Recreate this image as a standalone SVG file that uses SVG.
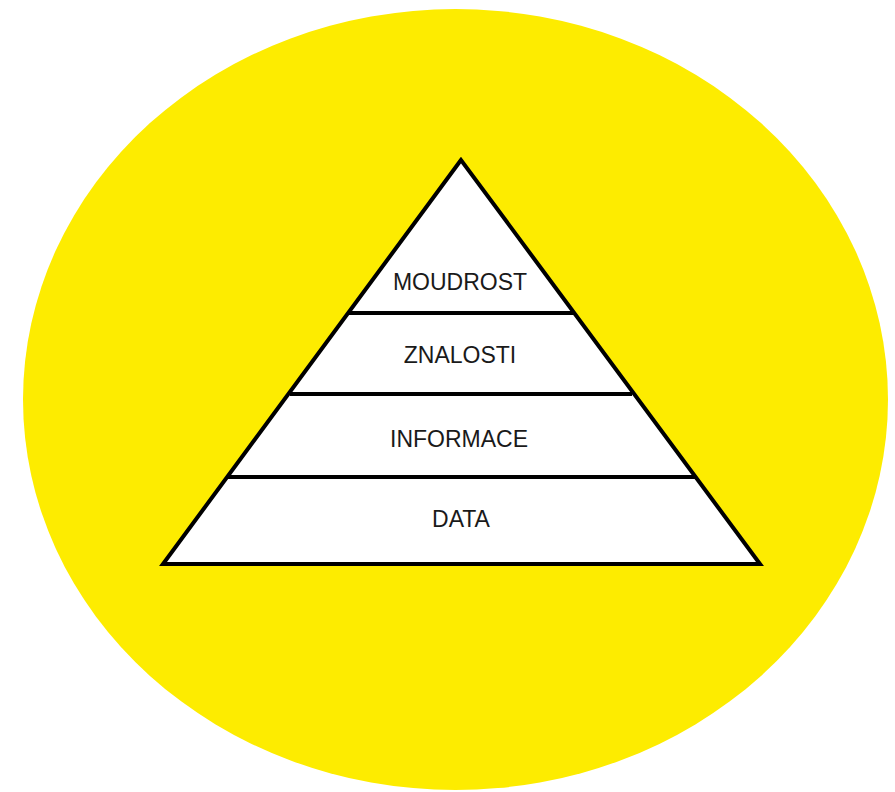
<svg xmlns="http://www.w3.org/2000/svg" width="895" height="792" viewBox="0 0 895 792">
<style>
.edge{stroke:#000;stroke-width:4;fill:none;stroke-linejoin:miter}
.lbl{font-family:"Liberation Sans",Arial,sans-serif;font-size:23px;fill:#1a1a1a;text-anchor:middle}
</style>
<rect width="895" height="792" fill="#fff"/>
<ellipse id="circle" cx="455.5" cy="399.5" rx="432.5" ry="390.5" fill="#fdec00"/>
<g id="pyramid">
<polygon points="461,160 163,564 760,564" fill="#fff" stroke="#000" stroke-width="4" stroke-linejoin="miter"/>
</g>
<g id="connectors">
<line class="edge" x1="348" y1="313" x2="574" y2="313"/>
<line class="edge" x1="290" y1="394" x2="632" y2="394"/>
<line class="edge" x1="228" y1="477" x2="695" y2="477"/>
</g>
<g id="moudrost"><text class="lbl" x="460" y="290">MOUDROST</text></g>
<g id="znalosti"><text class="lbl" x="460" y="363">ZNALOSTI</text></g>
<g id="informace"><text class="lbl" x="459" y="447">INFORMACE</text></g>
<g id="data"><text class="lbl" x="461" y="527">DATA</text></g>
</svg>
